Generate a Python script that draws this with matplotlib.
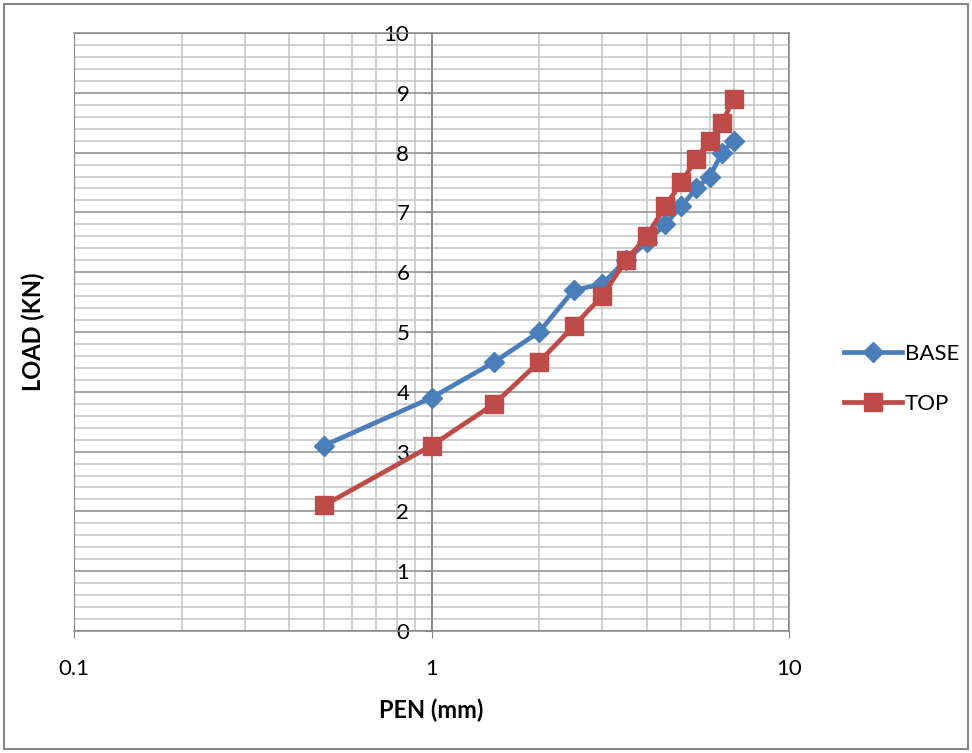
import matplotlib.pyplot as plt
from matplotlib.patches import Rectangle
from matplotlib.ticker import FixedLocator, NullFormatter, MultipleLocator, FixedFormatter

plt.rcParams['font.family'] = ['Lato', 'DejaVu Sans']

# data
pen = [0.5, 1, 1.5, 2, 2.5, 3, 3.5, 4, 4.5, 5, 5.5, 6, 6.5, 7]
base = [3.1, 3.9, 4.5, 5.0, 5.7, 5.8, 6.2, 6.5, 6.8, 7.1, 7.4, 7.6, 8.0, 8.2]
top = [2.1, 3.1, 3.8, 4.5, 5.1, 5.6, 6.2, 6.6, 7.1, 7.5, 7.9, 8.2, 8.5, 8.9]
x_ticks = [0.1, 1, 10]
x_labels = ["0.1", "1", "10"]

fig = plt.figure(figsize=(9.72, 7.53), dpi=100)
ax = fig.add_axes([74 / 972, 1 - 631 / 753, 715 / 972, 598 / 753])

blue = '#4A7EBB'
red = '#BE4B48'
ax.plot(pen, base, color=blue, lw=3.4, marker='D', ms=10, label='BASE', zorder=3)
ax.plot(pen, top, color=red, lw=3.4, marker='s', ms=13, label='TOP', zorder=4)

ax.set_xscale('log')
ax.set_xlim(0.1, 10)
ax.set_ylim(0, 10)

ax.xaxis.set_major_locator(FixedLocator(x_ticks))
ax.xaxis.set_major_formatter(FixedFormatter(x_labels))
minor_x = [m * d for d in (0.1, 1) for m in range(2, 10)]
ax.xaxis.set_minor_locator(FixedLocator(minor_x))
ax.xaxis.set_minor_formatter(NullFormatter())
ax.yaxis.set_major_locator(MultipleLocator(1))
ax.yaxis.set_minor_locator(MultipleLocator(0.2))

ax.grid(True, which='major', color='#8C8C8C', lw=1.1)
ax.grid(True, which='minor', color='#C4C4C4', lw=1.1)
ax.set_axisbelow(True)

ax.spines['left'].set_position(('data', 1))
for s in ['top', 'right', 'bottom', 'left']:
    ax.spines[s].set_color('#868686')
    ax.spines[s].set_linewidth(1.1)
ax.axvline(0.1, color='#868686', lw=1.5, zorder=1)

ax.tick_params(axis='both', which='major', labelsize=16, color='#868686',
               direction='out', length=5)
ax.tick_params(axis='x', which='major', pad=15)
ax.tick_params(axis='y', which='major', pad=11)
ax.tick_params(which='minor', length=0)

fig.text(431 / 972, 1 - 710 / 753, 'PEN (mm)', ha='center', va='center',
         fontsize=17, fontweight='bold')
fig.text(33 / 972, 1 - 332 / 753, 'LOAD (KN)', ha='center', va='center',
         rotation=90, fontsize=17, fontweight='bold')

fig.legend(loc='center left', bbox_to_anchor=(824 / 972, 1 - 379 / 753),
           frameon=False, fontsize=16, handlelength=2.6, labelspacing=1.35,
           handletextpad=0.15)

fig.patches.append(Rectangle((4 / 972, 4 / 753), 964 / 972, 745 / 753,
                             transform=fig.transFigure, fill=False,
                             edgecolor='#868686', lw=1.5))

fig.savefig('out.png', dpi=100)
